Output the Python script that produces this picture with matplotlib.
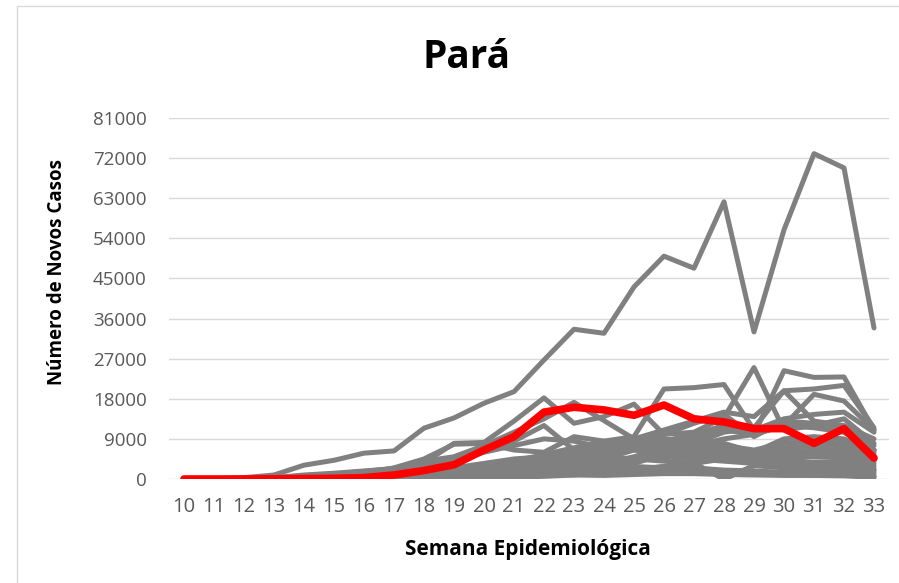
import matplotlib.pyplot as plt
import matplotlib.patches as mpatches

semanas = list(range(10, 34))
y_ticks = list(range(0, 81001, 9000))

# Pará (destacado em vermelho)
para = [0, 0, 0, 50, 100, 150, 300, 900, 1900, 3200, 6500, 9500,
        15000, 16100, 15500, 14300, 16600, 13500, 12800, 11300, 11300, 8000, 11300, 4700]

# demais estados (cinza)
estado_01 = [0, 50, 300, 900, 3100, 4200, 5800, 6300, 11400, 13700, 17000, 19600,
             26700, 33600, 32700, 43100, 50000, 47300, 62200, 33000, 55900, 73000, 69800, 33900]
estado_02 = [0, 0, 50, 300, 900, 1300, 1800, 2300, 3600, 8000, 8200, 13000,
             18200, 12500, 14000, 16800, 10000, 12500, 14500, 9500, 13000, 12500, 10500, 6500]
estado_03 = [0, 0, 30, 200, 600, 1100, 1700, 2400, 4000, 5000, 7500, 10500,
             13500, 17200, 13100, 9000, 7800, 6500, 5500, 4800, 4200, 3600, 3000, 2000]
estado_04 = [0, 0, 0, 50, 300, 700, 1200, 2500, 4500, 7800, 8000, 6500,
             6000, 9500, 8500, 8000, 9000, 8000, 7000, 6000, 7000, 7500, 8000, 5000]
estado_05 = [0, 0, 20, 100, 300, 600, 900, 1500, 3000, 4500, 6500, 8500,
             12000, 6500, 7500, 9000, 6000, 7000, 6500, 5500, 6000, 6500, 7000, 4500]
estado_06 = [0, 0, 0, 50, 100, 300, 600, 1200, 2000, 4000, 6000, 7500,
             9000, 8500, 7000, 7500, 8000, 9000, 8000, 6000, 9000, 9500, 9000, 6000]
estado_07 = [0, 0, 20, 100, 200, 300, 500, 800, 1200, 1800, 2800, 4000,
             5500, 7000, 8500, 9500, 20200, 20500, 21200, 11000, 12500, 12000, 13500, 8000]
estado_08 = [0, 0, 30, 100, 200, 300, 400, 600, 900, 1200, 1800, 2800,
             4000, 5500, 7500, 9000, 11000, 13000, 15000, 14000, 19800, 20200, 21000, 11500]
estado_09 = [0, 0, 50, 100, 200, 300, 400, 500, 700, 900, 1500, 2500,
             3500, 4500, 6500, 9000, 10000, 10500, 13800, 25000, 11000, 12000, 11500, 7500]
estado_10 = [0, 0, 10, 50, 100, 150, 200, 300, 400, 600, 900, 1400,
             2000, 3000, 4500, 6500, 8500, 10000, 12000, 11000, 13500, 14500, 15000, 10500]
estado_11 = [0, 0, 10, 50, 100, 150, 200, 300, 400, 500, 700, 1000,
             1500, 2500, 3500, 5000, 7000, 9500, 12000, 10000, 24300, 22800, 22900, 11000]
estado_12 = [0, 0, 10, 50, 100, 150, 200, 300, 400, 600, 800, 1200,
             1600, 2500, 3000, 4500, 6000, 7500, 9000, 10000, 12000, 19000, 17500, 11000]
estado_13 = [0, 0, 10, 50, 100, 150, 200, 300, 400, 500, 700, 900,
             1200, 1800, 2500, 3500, 5500, 8000, 10500, 11500, 19800, 13000, 12000, 9000]
estado_14 = [0, 0, 10, 50, 200, 400, 700, 1000, 1500, 2500, 3500, 4500,
             5000, 5500, 6500, 7000, 7000, 8000, 7500, 6500, 8000, 8500, 8000, 6500]
estado_15 = [0, 0, 0, 20, 50, 100, 200, 400, 800, 1500, 2500, 3500,
             4500, 6000, 7000, 7500, 7000, 6500, 6000, 5000, 5500, 6000, 6500, 5500]
estado_16 = [0, 0, 0, 20, 50, 100, 200, 300, 500, 900, 1500, 2500,
             3500, 4500, 5500, 6500, 5500, 5000, 4500, 3500, 4500, 5000, 5000, 3500]
estado_17 = [0, 0, 0, 10, 30, 80, 150, 300, 600, 1200, 2000, 3000,
             4000, 4500, 5000, 4500, 4000, 3500, 0, 3000, 2500, 2000, 1800, 1000]
estado_18 = [0, 0, 0, 10, 30, 60, 100, 200, 400, 700, 1200, 2000,
             3000, 3500, 4000, 4500, 5000, 4500, 4000, 3500, 3000, 2800, 2500, 1500]
estado_19 = [0, 0, 0, 10, 30, 60, 100, 200, 400, 600, 1000, 1500,
             2200, 3000, 3800, 4500, 5000, 5500, 5000, 4000, 3500, 3500, 3000, 2000]
estado_20 = [0, 0, 0, 10, 50, 150, 300, 600, 1200, 1800, 2500, 3000,
             2500, 2000, 1800, 1500, 1500, 1600, 1400, 1200, 1000, 900, 900, 500]
estado_21 = [0, 0, 0, 10, 20, 50, 100, 200, 400, 700, 1000, 1500,
             2000, 2500, 3000, 2800, 2500, 2500, 2000, 1800, 1500, 1200, 1200, 600]
estado_22 = [0, 0, 0, 10, 20, 50, 100, 150, 300, 500, 800, 1300,
             1800, 2500, 3500, 4500, 5500, 6500, 5500, 4500, 5000, 5500, 5000, 3000]
estado_23 = [0, 0, 0, 10, 20, 50, 100, 200, 400, 700, 900, 1000,
             1000, 900, 800, 1000, 1200, 1200, 1000, 900, 800, 800, 700, 400]
estado_24 = [0, 0, 0, 0, 10, 20, 50, 100, 200, 300, 500, 700,
             1000, 1300, 1800, 2200, 2800, 3500, 0, 3000, 3500, 3800, 4000, 2500]
estado_25 = [0, 0, 0, 10, 20, 30, 50, 80, 150, 250, 400, 700,
             1200, 2000, 3000, 4500, 6500, 8500, 11000, 10000, 12000, 11500, 10500, 6500]
estado_26 = [0, 0, 0, 10, 20, 30, 50, 80, 100, 150, 250, 400,
             600, 900, 1500, 2000, 2800, 3500, 4500, 5500, 6500, 6000, 6000, 4000]

outros = [estado_01, estado_02, estado_03, estado_04, estado_05, estado_06, estado_07,
          estado_08, estado_09, estado_10, estado_11, estado_12, estado_13, estado_14,
          estado_15, estado_16, estado_17, estado_18, estado_19, estado_20, estado_21,
          estado_22, estado_23, estado_24, estado_25, estado_26]

fig = plt.figure(figsize=(8.99, 5.83), dpi=100)
ax = fig.add_axes([169 / 899, 1 - 479 / 583, 720 / 899, 361 / 583])

x = list(range(len(semanas)))
for serie in outros:
    ax.plot(x, serie, color='#808080', lw=3.6,
            solid_joinstyle='round', solid_capstyle='round')
ax.plot(x, para, color='#ff0000', lw=5.5,
        solid_joinstyle='round', solid_capstyle='round', zorder=5)

ax.set_xlim(-0.5, len(semanas) - 0.5)
ax.set_ylim(0, 81000)
ax.set_yticks(y_ticks)
ax.set_yticklabels([str(v) for v in y_ticks])
ax.set_xticks(x)
ax.set_xticklabels([str(s) for s in semanas])
ax.grid(axis='y', color='#d9d9d9', lw=1.0)
ax.set_axisbelow(True)
for s in ax.spines.values():
    s.set_visible(False)
ax.tick_params(length=0)
ax.tick_params(axis='y', pad=16, labelsize=13.5, labelcolor='#595959')
ax.tick_params(axis='x', pad=13, labelsize=14.5, labelcolor='#595959')
for lab in ax.get_xticklabels():
    lab.set_family(['Liberation Sans Narrow', 'Open Sans', 'DejaVu Sans'])
for lab in ax.get_yticklabels():
    lab.set_family(['Open Sans', 'DejaVu Sans'])

fig.text(466 / 899, 1 - 58 / 583, 'Pará', ha='center', va='center',
         fontsize=28, fontweight='bold', family=['Open Sans', 'DejaVu Sans'])
fig.text(57 / 899, 1 - 272 / 583, 'Número de Novos Casos', ha='center', va='center',
         rotation=90, fontsize=13.5, fontweight='bold', family=['Open Sans', 'DejaVu Sans'])
fig.text(528 / 899, 1 - 549 / 583, 'Semana Epidemiológica', ha='center', va='center',
         fontsize=15, fontweight='bold', family=['Open Sans', 'DejaVu Sans'])

# moldura do gráfico
frame = mpatches.Rectangle((17 / 899, -0.1), 1.2, 1.1 - 6 / 583, transform=fig.transFigure,
                           fill=False, edgecolor='#d9d9d9', lw=1.0)
fig.patches.append(frame)

fig.savefig('out.png', dpi=100)
